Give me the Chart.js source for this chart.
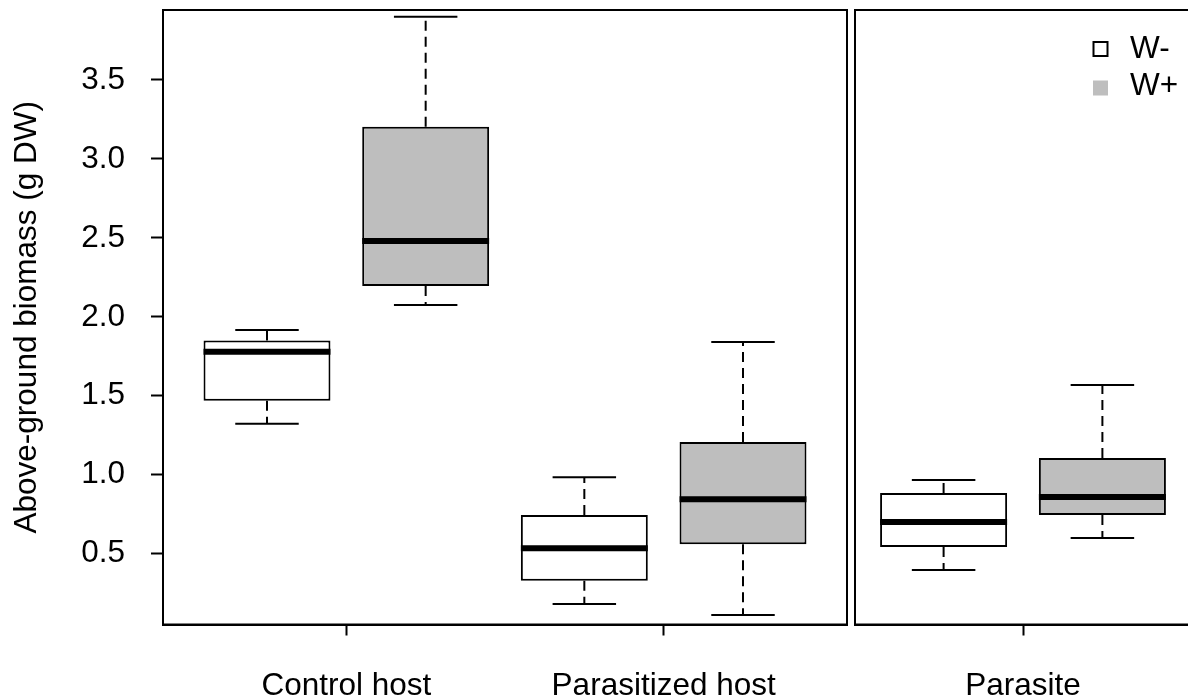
<!DOCTYPE html>
<html><head><meta charset="utf-8">
<script src="https://cdn.jsdelivr.net/npm/chart.js@4/dist/chart.umd.min.js"></script>
<style>
html,body{margin:0;padding:0;overflow:hidden;background:#fff;width:1188px;height:698px;}
#p1{position:absolute;left:0;top:0;width:849px;height:698px;}
#p2{position:absolute;left:853px;top:0;width:340px;height:698px;}
</style></head><body>
<div id="p1"><canvas id="c1"></canvas></div>
<div id="p2"><canvas id="c2"></canvas></div>
<script>
// ---- data ----
const categories = ['Control host', 'Parasitized host', 'Parasite'];
const seriesNames = ['W-', 'W+'];
const wMinusMin = [1.323, 0.181, 0.397];
const wMinusQ1  = [1.469, 0.329, 0.542];
const wMinusMed = [1.779, 0.534, 0.701];
const wMinusQ3  = [1.850, 0.745, 0.884];
const wMinusMax = [1.917, 0.984, 0.967];
const wPlusMin  = [2.075, 0.112, 0.599];
const wPlusQ1   = [2.195, 0.560, 0.745];
const wPlusMed  = [2.480, 0.845, 0.859];
const wPlusQ3   = [3.204, 1.207, 1.106];
const wPlusMax  = [3.901, 1.841, 1.568];
const yTicks = [0.5, 1.0, 1.5, 2.0, 2.5, 3.0, 3.5];
const yTickLabels = ['0.5', '1.0', '1.5', '2.0', '2.5', '3.0', '3.5'];
const leftPanelCats = [0, 1];
const rightPanelCats = [2];

// ---- styles ----
const FONT = '"Liberation Sans", Arial, Helvetica, sans-serif';
const FS = 31.5;
const fills = ['#FFFFFF', '#BEBEBE'];
Chart.defaults.font.family = FONT;
Chart.defaults.color = '#000';

const series = [
  {name: seriesNames[0], fill: fills[0], min: wMinusMin, q1: wMinusQ1, med: wMinusMed, q3: wMinusQ3, max: wMinusMax},
  {name: seriesNames[1], fill: fills[1], min: wPlusMin, q1: wPlusQ1, med: wPlusMed, q3: wPlusQ3, max: wPlusMax}
];

const BOX_W = 0.8, CAP_HALF = 0.2, MED_HALF = 0.4;

function buildDatasets(cats) {
  const ds = [];
  const whisk = [], caps = [], meds = [];
  series.forEach((s, si) => {
    const boxData = [];
    cats.forEach((ci, k) => {
      const x = 2 * k + 1 + si;
      boxData.push({x: x, y: [s.q1[ci], s.q3[ci]]});
      whisk.push({x: x, y: s.q3[ci]}, {x: x, y: s.max[ci]}, {x: x, y: null});
      whisk.push({x: x, y: s.q1[ci]}, {x: x, y: s.min[ci]}, {x: x, y: null});
      caps.push({x: x - CAP_HALF, y: s.max[ci]}, {x: x + CAP_HALF, y: s.max[ci]}, {x: x, y: null});
      caps.push({x: x - CAP_HALF, y: s.min[ci]}, {x: x + CAP_HALF, y: s.min[ci]}, {x: x, y: null});
      meds.push({x: x - MED_HALF, y: s.med[ci]}, {x: x + MED_HALF, y: s.med[ci]}, {x: x, y: null});
    });
    ds.push({
      type: 'bar', label: s.name, data: boxData,
      backgroundColor: s.fill, borderColor: '#000', borderWidth: 2, borderSkipped: false,
      grouped: false, categoryPercentage: 1, barPercentage: BOX_W, order: 2
    });
  });
  const lineBase = {type: 'line', pointRadius: 0, borderColor: '#000', spanGaps: false, fill: false, borderCapStyle: 'butt', tension: 0};
  ds.push(Object.assign({}, lineBase, {label: 'whiskers', data: whisk, borderWidth: 2, borderDash: [10, 6], order: 3}));
  ds.push(Object.assign({}, lineBase, {label: 'caps', data: caps, borderWidth: 2, order: 3}));
  ds.push(Object.assign({}, lineBase, {label: 'medians', data: meds, borderWidth: 6, order: 1}));
  return ds;
}

const framePlugin = {
  id: 'frame',
  afterDraw(chart) {
    const a = chart.chartArea, ctx = chart.ctx;
    ctx.save();
    ctx.strokeStyle = '#000'; ctx.lineWidth = 2;
    ctx.strokeRect(a.left, a.top, a.right - a.left, a.bottom - a.top);
    ctx.restore();
  }
};

const legendPlugin = {
  id: 'rlegend',
  afterDraw(chart) {
    const ctx = chart.ctx, a = chart.chartArea;
    const sqX = a.right - 97.5;
    const txX = a.right - 61;
    ctx.save();
    ctx.strokeStyle = '#000'; ctx.lineWidth = 2;
    ctx.fillStyle = series[0].fill;
    ctx.fillRect(sqX, a.top + 32, 14, 14);
    ctx.strokeRect(sqX, a.top + 32, 14, 14);
    ctx.fillStyle = series[1].fill;
    ctx.fillRect(sqX - 0.5, a.top + 70.5, 15, 15);
    ctx.fillStyle = '#000';
    ctx.font = FS + 'px ' + FONT;
    ctx.textAlign = 'left'; ctx.textBaseline = 'alphabetic';
    ctx.fillText(series[0].name, txX, a.top + 48);
    ctx.fillText(series[1].name, txX, a.top + 85);
    ctx.restore();
  }
};

const YMIN = 0.0516, YMAX = 3.943;

function xScale(min, max, cats) {
  return {
    type: 'linear', min: min, max: max, offset: false,
    afterBuildTicks: s => { s.ticks = cats.map((c, k) => ({value: 2 * k + 1.5})); },
    ticks: {callback: (v, i) => categories[cats[i]], padding: 32, font: {size: FS}, color: '#000', maxRotation: 0, autoSkip: false},
    grid: {display: true, offset: false, drawOnChartArea: false, drawTicks: true, tickLength: 11, tickWidth: 2, tickColor: '#000'},
    border: {display: true, color: '#000', width: 2},
    afterFit: s => { s.height = 73.5; s.paddingLeft = 0; s.paddingRight = 0; }
  };
}

new Chart(document.getElementById('c1'), {
  type: 'bar',
  data: {datasets: buildDatasets(leftPanelCats)},
  options: {
    responsive: true, maintainAspectRatio: false, animation: false, events: [],
    layout: {padding: {top: 10, right: 2, left: 0, bottom: 0}},
    plugins: {legend: {display: false}, tooltip: {enabled: false}},
    scales: {
      x: xScale(0.3446, 4.6554, leftPanelCats),
      y: {
        type: 'linear', min: YMIN, max: YMAX,
        afterBuildTicks: s => { s.ticks = yTicks.map(v => ({value: v})); },
        ticks: {callback: (v, i) => yTickLabels[i], padding: 26, font: {size: FS}, color: '#000'},
        grid: {display: true, offset: false, drawOnChartArea: false, drawTicks: true, tickLength: 12, tickWidth: 2, tickColor: '#000'},
        border: {display: true, color: '#000', width: 2},
        title: {display: true, text: 'Above-ground biomass (g DW)', font: {size: FS}, color: '#000', padding: {top: 8, bottom: 0}},
        afterFit: s => { s.width = 163; s.paddingTop = 0; s.paddingBottom = 0; }
      }
    }
  },
  plugins: [framePlugin]
});

new Chart(document.getElementById('c2'), {
  type: 'bar',
  data: {datasets: buildDatasets(rightPanelCats)},
  options: {
    responsive: true, maintainAspectRatio: false, animation: false, events: [],
    layout: {padding: {top: 10, right: 2, left: 2, bottom: 0}},
    plugins: {legend: {display: false}, tooltip: {enabled: false}},
    scales: {
      x: xScale(0.442, 2.558, rightPanelCats),
      y: {type: 'linear', display: false, min: YMIN, max: YMAX}
    }
  },
  plugins: [framePlugin, legendPlugin]
});
</script>
</body></html>
